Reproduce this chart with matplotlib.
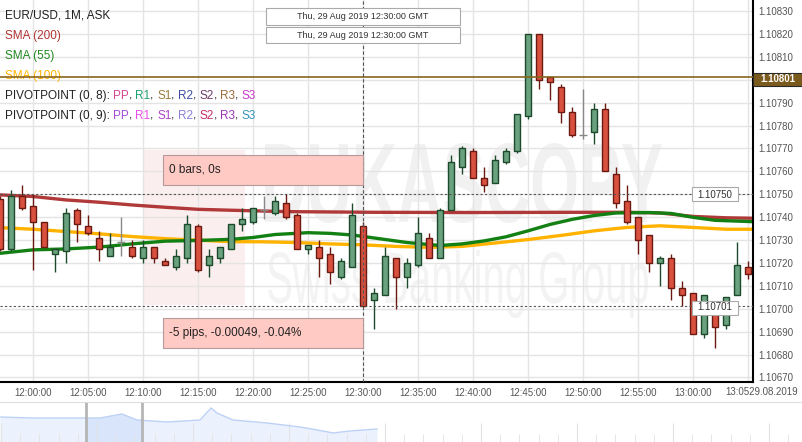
import numpy as np
import matplotlib
matplotlib.use('Agg')
import matplotlib.pyplot as plt
from matplotlib.patches import Rectangle, PathPatch
from matplotlib.textpath import TextPath
from matplotlib.font_manager import FontProperties
from matplotlib.transforms import Affine2D, IdentityTransform

W, H = 803, 442
plt.rcParams['font.family'] = ['Liberation Sans', 'DejaVu Sans']

# one candle per minute, minutes counted from 12:00 (11:57 .. 13:05)
minutes = list(range(-3, 66))
opens = [1.10748, 1.10726, 1.10749, 1.10745, 1.10738, 1.10724, 1.10725, 1.10743, 1.10736, 1.10731,
         1.10723, 1.10729, 1.10727, 1.10722, 1.10727, 1.10721, 1.10718, 1.10722, 1.10736, 1.10719,
         1.10722, 1.10726, 1.10737, 1.10738, 1.10743, 1.10742, 1.10746, 1.10741, 1.10726, 1.10727,
         1.10724, 1.10714, 1.10718, 1.10736, 1.10704, 1.10706, 1.10722, 1.10714, 1.10719, 1.10731,
         1.10722, 1.10743, 1.10762, 1.10769, 1.10757, 1.10755, 1.10764, 1.10769, 1.10784, 1.10820,
         1.10801, 1.10797, 1.10786, 1.10776, 1.10777, 1.10787, 1.10759, 1.10747, 1.10740, 1.10732,
         1.10720, 1.10722, 1.10709, 1.10707, 1.10689, 1.10703, 1.10693, 1.10706, 1.10718]
highs = [1.10749, 1.10752, 1.10754, 1.10750, 1.10738, 1.10726, 1.10744, 1.10744, 1.10741, 1.10734,
         1.10733, 1.10740, 1.10730, 1.10730, 1.10727, 1.10722, 1.10726, 1.10741, 1.10737, 1.10726,
         1.10727, 1.10737, 1.10744, 1.10744, 1.10749, 1.10749, 1.10750, 1.10742, 1.10728, 1.10730,
         1.10727, 1.10722, 1.10746, 1.10738, 1.10709, 1.10727, 1.10722, 1.10722, 1.10740, 1.10733,
         1.10744, 1.10767, 1.10771, 1.10770, 1.10762, 1.10767, 1.10770, 1.10785, 1.10820, 1.10820,
         1.10801, 1.10798, 1.10788, 1.10796, 1.10790, 1.10790, 1.10762, 1.10754, 1.10740, 1.10732,
         1.10723, 1.10724, 1.10712, 1.10707, 1.10706, 1.10703, 1.10705, 1.10729, 1.10721]
lows = [1.10725, 1.10725, 1.10743, 1.10717, 1.10727, 1.10716, 1.10720, 1.10729, 1.10732, 1.10721,
        1.10723, 1.10723, 1.10722, 1.10720, 1.10720, 1.10719, 1.10717, 1.10720, 1.10716, 1.10714,
        1.10720, 1.10726, 1.10734, 1.10737, 1.10739, 1.10741, 1.10739, 1.10726, 1.10724, 1.10714,
        1.10711, 1.10713, 1.10718, 1.10701, 1.10691, 1.10706, 1.10700, 1.10709, 1.10718, 1.10722,
        1.10722, 1.10743, 1.10759, 1.10757, 1.10751, 1.10755, 1.10763, 1.10768, 1.10783, 1.10796,
        1.10791, 1.10781, 1.10775, 1.10774, 1.10772, 1.10760, 1.10744, 1.10737, 1.10724, 1.10716,
        1.10710, 1.10704, 1.10701, 1.10689, 1.10687, 1.10683, 1.10691, 1.10706, 1.10713]
closes = [1.10726, 1.10749, 1.10744, 1.10738, 1.10727, 1.10726, 1.10742, 1.10737, 1.10733, 1.10726,
          1.10727, 1.10729, 1.10723, 1.10727, 1.10722, 1.10719, 1.10723, 1.10737, 1.10717, 1.10723,
          1.10727, 1.10737, 1.10739, 1.10744, 1.10743, 1.10747, 1.10740, 1.10726, 1.10728, 1.10722,
          1.10716, 1.10721, 1.10741, 1.10701, 1.10707, 1.10723, 1.10714, 1.10720, 1.10733, 1.10722,
          1.10743, 1.10764, 1.10770, 1.10757, 1.10754, 1.10765, 1.10769, 1.10785, 1.10820, 1.10800,
          1.10799, 1.10786, 1.10776, 1.10776, 1.10787, 1.10760, 1.10746, 1.10738, 1.10730, 1.10720,
          1.10722, 1.10709, 1.10706, 1.10689, 1.10706, 1.10692, 1.10705, 1.10719, 1.10715]

sma200_t = [-3, 0, 3, 6, 9, 12, 15, 18, 23, 31, 40, 49, 54, 57, 60, 63, 65.5]
sma200 = [1.107497, 1.107490, 1.107475, 1.107465, 1.107453, 1.107443, 1.107434, 1.107430, 1.107424,
          1.107421, 1.107420, 1.107421, 1.107421, 1.107418, 1.107403, 1.107397, 1.107395]
sma55_t = [-3, 0, 3, 6, 9, 12, 15, 18, 20, 22, 25, 27, 29, 31, 34, 37, 39, 41, 43, 45, 47, 49, 51,
           53, 56, 58, 60, 62, 65.5]
sma55 = [1.107242, 1.107257, 1.107261, 1.107269, 1.107283, 1.107295, 1.107298, 1.107303, 1.107311,
         1.107324, 1.107332, 1.107329, 1.107322, 1.107309, 1.107289, 1.107276, 1.107283, 1.107296,
         1.107314, 1.107340, 1.107368, 1.107390, 1.107407, 1.107418, 1.107420, 1.107416, 1.107399,
         1.107386, 1.107380]
sma100_t = [-3, 0, 3, 6, 9, 12, 15, 18, 21, 24, 27, 30, 33, 36, 39, 42, 45, 48, 51, 54, 57, 60, 63, 65.5]
sma100 = [1.107354, 1.107347, 1.107337, 1.107327, 1.107315, 1.107306, 1.107299, 1.107293, 1.107292,
          1.107289, 1.107283, 1.107279, 1.107272, 1.107268, 1.107272, 1.107287, 1.107302, 1.107320,
          1.107340, 1.107355, 1.107362, 1.107355, 1.107347, 1.107347]

pivot_level = 1.10801
cross_time = 30
cross_high = 1.10750
cross_low = 1.10701

x_ticks = list(range(0, 66, 5))
x_labels = ['12:00:00', '12:05:00', '12:10:00', '12:15:00', '12:20:00', '12:25:00', '12:30:00',
            '12:35:00', '12:40:00', '12:45:00', '12:50:00', '12:55:00', '13:00:00', '']
y_ticks = [1.10670, 1.10680, 1.10690, 1.10700, 1.10710, 1.10720, 1.10730, 1.10740, 1.10750,
           1.10760, 1.10770, 1.10780, 1.10790, 1.10800, 1.10810, 1.10820, 1.10830]

# navigator strip under the chart
nav_t = [0, 33, 83, 100, 122, 137, 167, 200, 211, 217, 233, 267, 300, 323, 333, 350, 377]
nav_v = [25, 24, 24, 24, 28, 22, 20, 22, 34, 29, 22, 19, 15, 11, 9, 11, 13]

UP_FILL, UP_EDGE = '#6aa17e', '#1d4a2b'
DN_FILL, DN_EDGE = '#d9503f', '#6b1a12'
GRID = '#e4e4e4'


def fx(x):
    return x / W


def fy(y):
    return 1 - y / H


fig = plt.figure(figsize=(W / 100, H / 100), dpi=100)
ax = fig.add_axes([0, fy(382), fx(753), 382 / H])
ax.set_axisbelow(True)


def wordmark(text, x0, y0, x1, y1, color, weight='bold'):
    tp = TextPath((0, 0), text, size=100, prop=FontProperties(family='Liberation Sans', weight=weight))
    bb = tp.get_extents()
    tr = (Affine2D().translate(-bb.x0, -bb.y0)
          .scale((x1 - x0) / bb.width, (y1 - y0) / bb.height).translate(x0, H - y1))
    ax.add_patch(PathPatch(tr.transform_path(tp), facecolor=color, edgecolor='none',
                           transform=IdentityTransform(), zorder=0.2))


# watermark
ax.add_patch(Rectangle((fx(143), fy(305)), 102 / W, 155 / H, transform=fig.transFigure,
                       facecolor='#fbeeee', edgecolor='none', zorder=0.1))
wordmark('DUKASCOPY', 265, 143, 662, 223, '#f1f1f1')
wordmark('Swiss Banking Group', 268, 250, 648, 318, '#f3f3f3', weight='normal')

t = np.array(minutes, dtype=float)
o, h, l, c = (np.array(v) for v in (opens, highs, lows, closes))
up, dn, flat = c > o, c < o, c == o

ax.plot(sma200_t, sma200, color='#a82424', lw=2.4, alpha=0.9, zorder=2, solid_capstyle='round')
ax.plot(sma100_t, sma100, color='#ffb300', lw=2.4, zorder=2, solid_capstyle='round')
ax.plot(sma55_t, sma55, color='#138013', lw=2.4, zorder=2, solid_capstyle='round')

ax.vlines(t[up], l[up], h[up], color=UP_EDGE, lw=1, zorder=3)
ax.vlines(t[dn], l[dn], h[dn], color=DN_EDGE, lw=1, zorder=3)
ax.vlines(t[flat], l[flat], h[flat], color='#888888', lw=1, zorder=3)
ax.hlines(o[flat], t[flat] - 0.35, t[flat] + 0.35, color='#888888', lw=1, zorder=3)
ax.bar(t[up], (c - o)[up], bottom=o[up], width=0.55, color=UP_FILL, edgecolor=UP_EDGE, lw=1, zorder=4)
ax.bar(t[dn], (o - c)[dn], bottom=c[dn], width=0.55, color=DN_FILL, edgecolor=DN_EDGE, lw=1, zorder=4)

ax.axhline(pivot_level, color='#86651c', lw=1.2, zorder=5)
for lvl in (cross_high, cross_low):
    ax.axhline(lvl, color='#555555', lw=0.8, dashes=(2, 2), zorder=5)
ax.axvline(cross_time, color='#555555', lw=0.8, dashes=(3, 2), zorder=5)

ax.set_xlim(-3.0, 65.45)
ax.set_ylim(1.106680, 1.108348)
ax.set_xticks(x_ticks)
ax.set_xticklabels(x_labels)
ax.yaxis.tick_right()
ax.set_yticks(y_ticks)
# the 1.10800 label sits under the pivot tag, so leave it blank
ax.set_yticklabels(['' if abs(v - pivot_level) < 0.00005 else f'{v:.5f}' for v in y_ticks])
ax.tick_params(axis='both', length=0, labelsize=7, labelcolor='#555555')
ax.tick_params(axis='x', pad=4)
ax.tick_params(axis='y', pad=4)
ax.grid(True, color=GRID, lw=1)
for s in ('top', 'left'):
    ax.spines[s].set_visible(False)
for s in ('right', 'bottom'):
    ax.spines[s].set_color('black')
    ax.spines[s].set_linewidth(1.5)

fig.text(fx(798), fy(392), '13:0529.08.2019', ha='right', va='center', fontsize=7, color='#555555')


def box(x0, y0, x1, y1, face, edge, lw=0.8, z=6):
    fig.add_artist(Rectangle((fx(x0), fy(y1)), (x1 - x0) / W, (y1 - y0) / H, transform=fig.transFigure,
                             facecolor=face, edgecolor=edge, lw=lw, zorder=z))


# value tags on the price axis
box(753, 73, 802, 86, '#7b5b1d', '#2a2a2a')
fig.text(fx(778), fy(79.5), f'{pivot_level:.5f}', ha='center', va='center', fontsize=7,
         color='white', weight='bold', zorder=7)
for lvl, yc in ((cross_high, 194.5), (cross_low, 307.5)):
    box(692, yc - 7, 738, yc + 7, 'white', '#aaaaaa')
    fig.text(fx(715), fy(yc), f'{lvl:.5f}', ha='center', va='center', fontsize=7, color='#333333', zorder=7)

# crosshair date tags
for y0, y1 in ((8, 25), (27, 43)):
    box(266, y0, 460, y1, 'white', '#aaaaaa')
    fig.text(fx(363), fy((y0 + y1) / 2), 'Thu, 29 Aug 2019 12:30:00 GMT', ha='center', va='center',
             fontsize=6.5, color='#333333', zorder=7)

# measurement boxes
box(163, 155, 363, 185, '#ffc9c4', '#b59a9a')
fig.text(fx(169), fy(170), '0 bars, 0s', ha='left', va='center', fontsize=8.5, color='#222222', zorder=7)
box(163, 318, 363, 348, '#ffc9c4', '#b59a9a')
fig.text(fx(169), fy(333), '-5 pips, -0.00049, -0.04%', ha='left', va='center', fontsize=8.5,
         color='#222222', zorder=7)

# legend block
legend_rows = [
    [('EUR/USD, 1M, ASK', '#222222')],
    [('SMA (200)', '#b23434')],
    [('SMA (55)', '#1f8a1f')],
    [('SMA (100)', '#ffb300')],
    [('PIVOTPOINT (0, 8): ', '#222222'), ('PP', '#d6458f'), (', ', '#222222'), ('R1', '#1aa06a'),
     (', ', '#222222'), ('S1', '#9c7b3c'), (', ', '#222222'), ('R2', '#3b4fa0'), (', ', '#222222'),
     ('S2', '#6b3d6b'), (', ', '#222222'), ('R3', '#9b6b3a'), (', ', '#222222'), ('S3', '#c83ac8')],
    [('PIVOTPOINT (0, 9): ', '#222222'), ('PP', '#a64bd6'), (', ', '#222222'), ('R1', '#e84de8'),
     (', ', '#222222'), ('S1', '#b040c8'), (', ', '#222222'), ('R2', '#8a80d8'), (', ', '#222222'),
     ('S2', '#c43068'), (', ', '#222222'), ('R3', '#9a35b5'), (', ', '#222222'), ('S3', '#3595bb')],
]
for i, row in enumerate(legend_rows):
    prev = None
    for txt, col in row:
        if prev is None:
            prev = ax.annotate(txt, xy=(fx(5), fy(16 + 20 * i)), xycoords='figure fraction',
                               ha='left', va='center', fontsize=8.5, color=col, zorder=4)
        else:
            prev = ax.annotate(txt, xy=(1, 0), xycoords=prev, ha='left', va='bottom',
                               fontsize=8.5, color=col, zorder=4, annotation_clip=False)

# navigator
nav = fig.add_axes([0, 0, 1, 40 / H])
nav.fill_between(nav_t, nav_v, color='#ebf2fd', lw=0)
sel = nav.fill_between(nav_t, nav_v, color='#d9e5fa', lw=0)
sel.set_clip_path(Rectangle((86, 0), 56, 40, transform=nav.transData))
nav.plot(nav_t, nav_v, color='#bcd1f5', lw=1)
nav.axvline(86, color='#b5b5b5', lw=2)
nav.axvline(142, color='#b5b5b5', lw=2)
nav.set_xlim(0, W)
nav.set_ylim(0, 40)
nav.set_xticks(np.arange(1, W, 96))
nav.set_xticks(np.arange(1, W, 19.2), minor=True)
nav.tick_params(axis='x', which='major', direction='in', length=14, color='#e2e2e2', labelbottom=False)
nav.tick_params(axis='x', which='minor', direction='in', length=6, color='#e2e2e2')
nav.set_yticks([])
for s in ('left', 'right', 'bottom'):
    nav.spines[s].set_visible(False)
nav.spines['top'].set_color('#dddddd')

fig.savefig('out.png', dpi=100)
